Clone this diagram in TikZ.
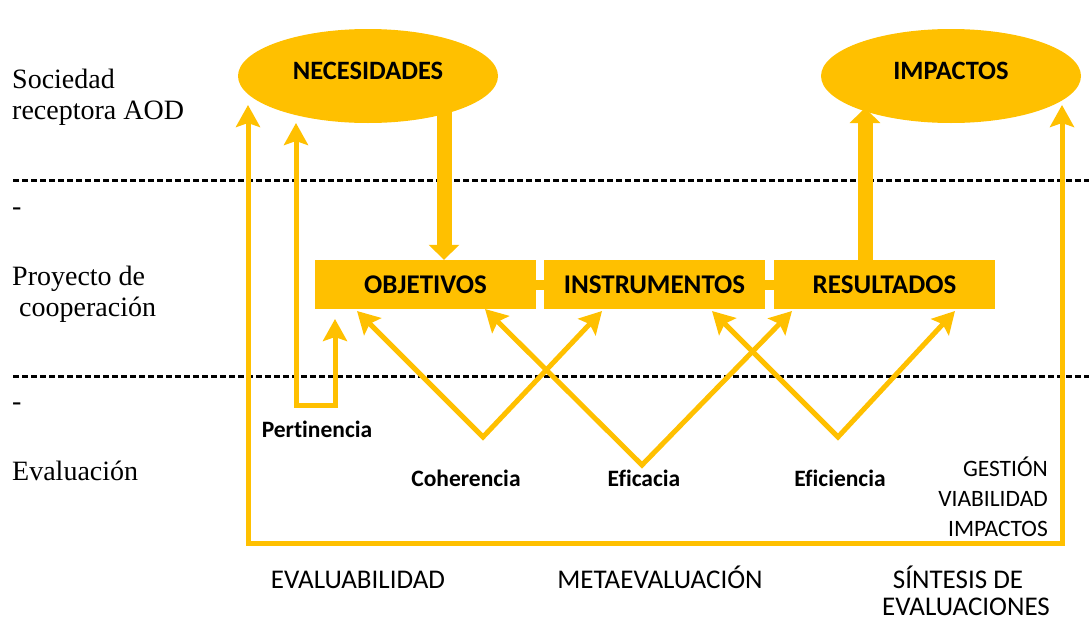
\documentclass[tikz,border=0pt]{standalone}
\usepackage{fontspec}
\setmainfont{Carlito}[Ligatures=NoCommon]
\newfontfamily\serifL{Liberation Serif}
\usetikzlibrary{arrows.meta,shapes.geometric}
\definecolor{gold}{HTML}{FFC000}
\tikzset{
  ell/.style={ellipse, fill=gold, minimum width=260pt, minimum height=94pt, inner sep=0pt},
  boxn/.style={rectangle, fill=gold, minimum width=221pt, minimum height=49pt, inner sep=0pt, font=\fontsize{27}{30}\selectfont\bfseries},
  bigtxt/.style={font=\fontsize{26.5}{30}\selectfont\bfseries, inner sep=0pt},
  lefttxt/.style={font=\serifL\fontsize{28}{31}\selectfont, anchor=west, align=left, inner sep=0pt},
  crit/.style={font=\fontsize{23.5}{26}\selectfont\bfseries, inner sep=0pt},
  bottxt/.style={font=\fontsize{27}{29}\selectfont, inner sep=0pt, align=center, anchor=base},
  sidetxt/.style={font=\fontsize{23.5}{30}\selectfont, inner sep=0pt, align=right, anchor=east},
  thinarr/.style={draw=gold, line width=5pt, {Stealth[length=22pt,width=24pt,inset=4pt]}-{Stealth[length=22pt,width=24pt,inset=4pt]}},
  thickarr/.style={draw=gold, line width=15pt, -{Triangle[length=15pt,width=30pt]}},
  sep/.style={draw=black, line width=3pt, dash pattern=on 6pt off 3pt},
  link/.style={draw=gold, line width=10pt}
}
\begin{document}
\begin{tikzpicture}[x=1pt,y=-1pt]
\useasboundingbox (0,0) rectangle (1089,621);
% separators
\coordinate (s1a) at (13,180); \coordinate (s1b) at (1089,180);
\coordinate (s2a) at (13,376); \coordinate (s2b) at (1089,376);
\draw[sep] (s1a) -- (s1b);
\draw[sep] (s2a) -- (s2b);
\node[lefttxt] (d1) at (12,212) {-};
\node[lefttxt] (d2) at (12,407) {-};
% left labels
\node[lefttxt] (soc) at (12,97) {Sociedad\\receptora AOD};
\node[lefttxt] (pro) at (12,294) {Proyecto de\\\ cooperación};
\node[lefttxt] (eva) at (12,471) {Evaluación};
% ellipses
\node[ell] (nec) at (368,76) {};
\node[bigtxt] (necT) at (368,71) {NECESIDADES};
\node[ell] (imp) at (951,76) {};
\node[bigtxt] (impT) at (951,71) {IMPACTOS};
% boxes
\node[boxn] (obj) at (425.5,284.5) {OBJETIVOS};
\node[boxn] (ins) at (654.5,284.5) {INSTRUMENTOS};
\node[boxn] (res) at (884.5,284.5) {RESULTADOS};
\draw[link] (obj.east) -- (ins.west);
\draw[link] (ins.east) -- (res.west);
% thick arrows
\coordinate (nd) at (444,108);
\draw[thickarr] (nd) -- (nd |- obj.north);
\coordinate (iu) at (865,108);
\draw[thickarr] (iu |- res.north) -- (iu);
% frame arrow
\coordinate (fl) at (248,105);
\coordinate (fbl) at (248,543);
\coordinate (fbr) at (1062,543);
\coordinate (fr) at (1062,105);
\draw[thinarr] (fl) -- (fbl) -- (fbr) -- (fr);
% pertinencia
\coordinate (p1) at (296,123);
\coordinate (p2) at (296,405);
\coordinate (p3) at (335,405);
\coordinate (p4) at (335,319);
\draw[thinarr] (p1) -- (p2) -- (p3) -- (p4);
\node[crit] (pert) at (317,429) {Pertinencia};
% V arrows
\coordinate (coV) at (483,437);
\coordinate (efV) at (642,465);
\coordinate (eiV) at (838,437);
\draw[thinarr] (357,311) -- (coV) -- (602,311);
\draw[thinarr] (485,309) -- (efV) -- (792,311);
\draw[thinarr] (712,311) -- (eiV) -- (955,311);
\node[crit] (coh) at (466,478) {Coherencia};
\node[crit] (efc) at (644,478) {Eficacia};
\node[crit] (efi) at (840,478) {Eficiencia};
\node[sidetxt] (gvi) at (1048,497) {GESTIÓN\\VIABILIDAD\\IMPACTOS};
% bottom labels
\node[bottxt] (evb) at (358,588) {EVALUABILIDAD};
\node[bottxt] (met) at (660,588) {METAEVALUACIÓN};
\node[bottxt] (sin1) at (958,588) {SÍNTESIS DE};
\node[bottxt] (sin2) at (966,615) {EVALUACIONES};
\end{tikzpicture}
\end{document}
